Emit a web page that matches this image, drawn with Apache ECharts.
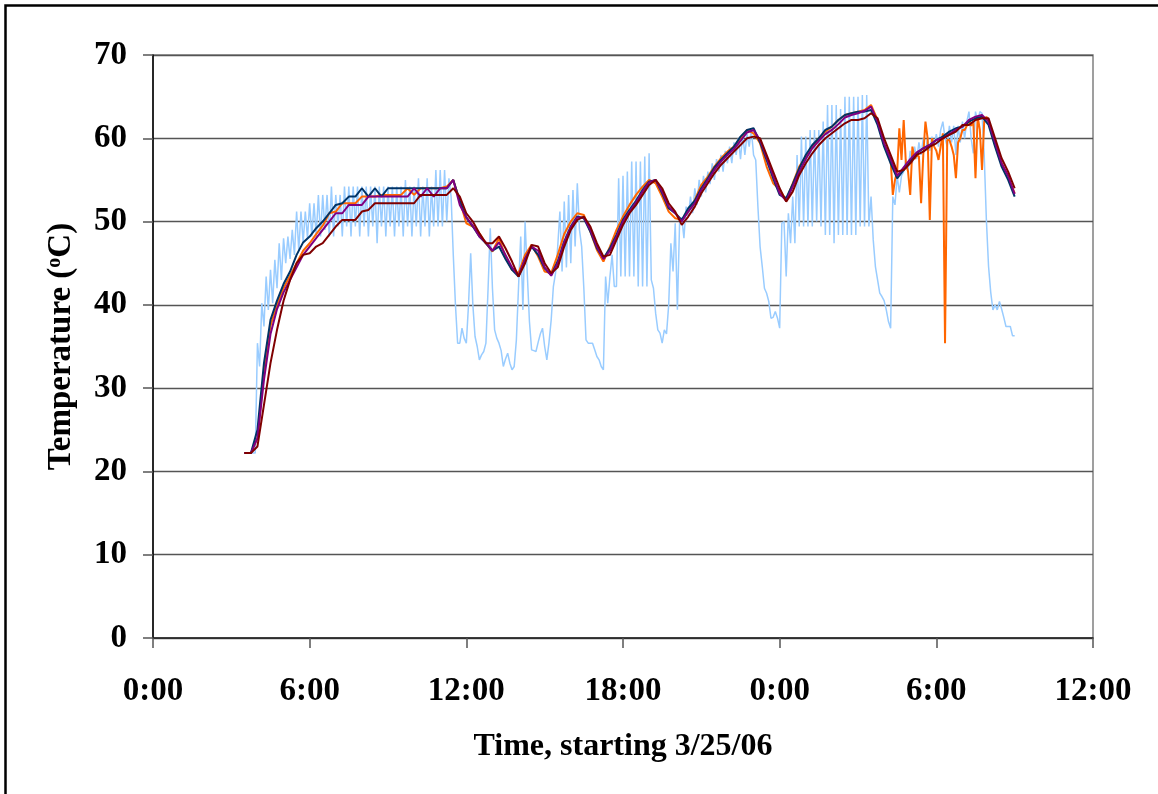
<!DOCTYPE html>
<html>
<head>
<meta charset="utf-8">
<script src="https://cdn.jsdelivr.net/npm/echarts@6/dist/echarts.min.js"></script>
<style>
html,body{margin:0;padding:0;background:#fff;}
#chart{width:1158px;height:794px;}
</style>
</head>
<body>
<div id="chart"></div>
<script>
// ---- data ----
const X_TICK_HOURS = [0, 6, 12, 18, 24, 30, 36];
const Y_TICKS = [0, 10, 20, 30, 40, 50, 60, 70];
const START_HOUR = 3.5;          // first sample, hours after 0:00 on 3/25/06
const MAIN_STEP_H = 0.25;        // 15-minute samples for the four logger series
const LIGHT_STEP_H = 1 / 12;     // 5-minute samples for the light-blue series
const ORANGE_TAIL_START = 28 + 1 / 3;
const ORANGE_TAIL_STEP_H = 1 / 12;

const LIGHT_BLUE = [
 22.2,22.2,22.2,22.2,22.2,22.2,
 35.4,32.6,40.2,37.4,43.4,
 39.4,44.2,40.2,45.4,42,47.4,43,48,45,48.2,
 45.5,49,46,51.2,46.5,51.2,47.5,51.2,48,52.2,
 48.2,52.2,48.2,53.2,48.2,53.2,49,53.2,48.2,54.2,
 48.2,53.2,49.4,53.2,48.2,54.2,49.4,54.2,48.2,54.2,
 49.4,54.2,48.2,54.2,49.4,54.2,48.2,54.2,49.4,54.2,
 47.4,54.2,49.4,54.2,48.2,54.2,49.4,54.2,48.2,54.2,
 49.4,54.2,48.2,55,49.4,54.2,48.2,54.2,49.4,55.2,
 48.2,54.2,49.4,55.2,48.2,54.2,49.4,56.2,49.4,56.2,
 49.4,56.2,50,55.2,53,46,40,35.4,35.4,37.2,
 36,35.4,40,46.2,40,36.2,35,33.4,34,34.4,
 35.4,42,49.2,42,37,36,35.4,34.5,32.6,33.5,
 34.2,33,32.2,32.6,35.8,42.2,48.2,39.4,50,43.8,
 38,34.6,34.5,34.4,35.5,36.5,37.2,35,33.4,35.5,
 38.2,42.2,43.8,47,51.2,44,52.4,44.5,53.2,45,
 53.8,47,54.6,49,47,42,35.8,35.4,35.4,35.4,
 34.6,33.8,33.4,32.6,32.2,43.4,40.2,43.4,46,42.2,
 42.2,55.2,43.4,55.5,43.4,56,43.4,57.2,43.4,57.2,
 42.2,57.2,42.2,57.8,42.2,58.2,43,42,39,37,
 36.6,35.4,37,36.5,40,47.4,44,49.8,39.4,49.8,
 50.5,48,51.8,50.5,53,51,54,52,55,53,
 55.5,53.5,56,54.5,57,55,57.5,56,58,56,
 58.5,57,59,57,59.5,58,60,57.5,60.5,58,
 60.5,59,61,58,57.4,51.8,47,44.6,42,41.4,
 40.4,38.4,38.5,39.2,38.4,37.2,49.8,50,43.4,51,
 47.4,53,47.4,58,49.4,60.2,49.4,60.2,49.4,61,
 49.4,61,50,61,49.4,62,48.4,64,48.4,64,
 47.4,64,48.4,63.5,48.4,65,48.4,65,48.4,65,
 48.4,65,49.4,65.2,49.4,65.2,49.4,53,47.8,44.6,
 43,41.4,41,40.5,39.4,38,37.2,53,52,55.5,
 53.5,55.5,56,57.5,56,58.5,57,59,57.5,59.5,
 58,60,58.5,60,58.5,60.2,59,60.5,59,61,
 62,60,59,61.5,59.5,61.5,58,61.5,59.5,62,
 60,62,63.2,60,58.2,63.2,62,63.2,63,58,
 50.2,44.6,41.5,39.4,40,39.4,40.4,39.5,38.5,37.4,
 37.4,37.4,36.3,36.3
];

const ORANGE_MAIN = [
 22.2,22.2,24,32,37.5,40,42,43.5,45,46.5,
 47.4,48.5,49.5,51,51.2,52.2,52.2,52.2,53,53,
 53,53.2,53.2,53.2,53.2,54,53.2,54,54,54,
 54,54.2,55,52.5,49.8,49.4,48.6,47.4,46.4,48,
 45.8,44.2,43.8,46,47.2,45.8,44,43.8,46,48.5,
 50,51,50.8,48.8,46.6,45.2,47,49,50.6,52,
 53.2,54.2,55,54.6,53,51.2,50.4,50.2,51.2,52.6,
 54.4,55.4,56.6,57.6,58.4,59,60,61,60.6,59.4,
 56.6,54.6,53.8,52.6,54.6,56.6,57.8,59,60,60.8,
 61.4,62.2,62.8,63,63.2,63.4,64,62.2,59.2,57.4
];
const ORANGE_TAIL = [
 53.2,55,56,61.2,57.4,62.2,57,56,53.2,59,
 57.5,58,57.8,52.2,58,62,60,50.2,60,59,
 58.5,57.4,59,60.6,35.4,59.8,59.8,59,58,55.2,
 59.5,60,61,61,61.5,62.2,61.5,62,55.2,62.6,
 61,56.2,62,62.6,62,61,60,59.2,58.4,57.6,
 57,56.4,56,55.4,54.6,54,53.4
];

const NAVY = [
 22.2,22.2,25,33,38.2,40.5,42.5,44,46,47.5,
 48.2,49.2,50,51,52,52.2,53,53,54,53,
 54,53,54,54,54,54,54,54,54,54,
 54,54,55,52.5,50.5,49.4,48.2,47.4,46.5,47,
 45.5,44.2,43.4,45.5,47,46,44.4,43.6,45.2,47.6,
 49.4,50.6,50.4,48.8,46.8,45.6,46.8,48.4,50.2,51.4,
 52.5,53.8,54.8,55,53.4,51.6,51,50.2,51.6,52.5,
 54,55.2,56.5,57.4,58.2,59,60.2,61,61.2,59.5,
 57.4,55.2,53.2,52.8,54.5,56.4,58,59.2,60,61,
 61.4,62.2,62.8,63,63.2,63.2,63.4,61.6,59,57,
 55.2,56.2,57.2,58.2,58.8,59.2,59.8,60.2,60.8,61.2,
 61.4,62,62.4,62.6,61.6,59,56.6,55,53
];

const PURPLE = [
 22.2,22.2,24,31,36.5,39.5,41.5,43,44.5,46,
 47,48,49,50,51,51,52,52,52,53,
 53,53,53,53,53,53,54,53,54,53,
 54,54,55,52,50.5,49.5,48.2,47.5,46.5,47.5,
 46,44.5,43.5,45.5,47,46.5,44.5,43.5,45,47.5,
 49.3,50.5,50.5,49,47,45.5,46.5,48.2,50,51.2,
 52.3,53.6,54.7,55,53.6,51.8,51,50,51.2,52.2,
 53.8,55,56.2,57.2,58,58.7,59.7,60.7,61,59.8,
 57.7,55.5,53.4,52.5,54.2,56,57.5,58.8,59.7,60.5,
 61,61.7,62.5,62.8,63,63.3,63.8,62,59.4,57.5,
 55.5,56.5,57.5,58.3,58.8,59.2,59.8,60,60.5,61,
 61.4,62.2,62.6,62.8,62,59.5,57,55.5,53.3
];

const DARK_RED = [
 22.2,22.2,23,28,33,37,40.5,43,45,46,
 46.2,47,47.4,48.4,49.4,50.2,50.2,50.2,51.2,51.4,
 52.2,52.2,52.2,52.2,52.2,52.2,52.2,53.2,53.2,53.2,
 53.2,53.2,54,53,51,50,48.6,47.4,47.4,48.2,
 46.8,45.2,43.4,45,47.2,47,45,43.8,44.5,47,
 49,50.2,50.6,49.4,47.4,45.8,46,47.8,49.6,51,
 52,53.2,54.4,55,54,52.2,51.2,49.6,50.6,51.8,
 53.4,54.6,55.8,56.8,57.6,58.4,59.2,60,60.2,60,
 58,56,54,52.4,53.6,55.6,57,58.2,59.2,60,
 60.6,61.2,61.8,62.2,62.2,62.4,63,62.4,60,58,
 56,56.2,57,58,58.4,59,59.4,60,60.4,60.8,
 61.6,61.6,62.2,62.4,62.4,60,57.6,56,54
];

// ---- build [hour, value] pairs ----
function grid(vals, start, step) { return vals.map((v, i) => [start + i * step, v]); }
const lightData = grid(LIGHT_BLUE, START_HOUR, LIGHT_STEP_H);
const orangeData = grid(ORANGE_MAIN, START_HOUR, MAIN_STEP_H)
  .concat(grid(ORANGE_TAIL, ORANGE_TAIL_START, ORANGE_TAIL_STEP_H));
const navyData = grid(NAVY, START_HOUR, MAIN_STEP_H);
const purpleData = grid(PURPLE, START_HOUR, MAIN_STEP_H);
const redData = grid(DARK_RED, START_HOUR, MAIN_STEP_H);

const FONT = "'Liberation Serif', 'Times New Roman', serif";
const chart = echarts.init(document.getElementById('chart'), null, {renderer: 'canvas'});

function line(name, data, color, width, z) {
  return { name, type: 'line', data, showSymbol: false, symbol: 'none', z,
    lineStyle: { color, width }, itemStyle: { color }, animation: false };
}

chart.setOption({
  animation: false,
  backgroundColor: '#fff',
  graphic: [{ type: 'rect', left: 3, top: 3, shape: { width: 1200, height: 900 },
    style: { fill: 'none', stroke: '#000', lineWidth: 2.5 }, z: 100 }],
  grid: { left: 153, right: 65, top: 55, bottom: 156, show: true,
    borderColor: '#808080', borderWidth: 1.5, backgroundColor: 'transparent' },
  xAxis: {
    type: 'value', min: X_TICK_HOURS[0], max: X_TICK_HOURS[X_TICK_HOURS.length - 1], interval: 6,
    name: 'Time, starting 3/25/06', nameLocation: 'middle', nameGap: 93,
    nameTextStyle: { fontFamily: FONT, fontWeight: 'bold', fontSize: 32, color: '#000' },
    axisLine: { show: true, onZero: false, lineStyle: { color: '#222', width: 1.5 } },
    axisTick: { show: true, length: 10, lineStyle: { color: '#555', width: 1.5 } },
    axisLabel: { fontFamily: FONT, fontWeight: 'bold', fontSize: 33, color: '#000', margin: 37,
      formatter: v => (v % 24) + ':00' },
    splitLine: { show: false }
  },
  yAxis: {
    type: 'value', min: Y_TICKS[0], max: Y_TICKS[Y_TICKS.length - 1], interval: 10,
    name: 'Temperature ({sup|o}C)', nameLocation: 'middle', nameGap: 75, nameRotate: 90,
    nameTextStyle: { fontFamily: FONT, fontWeight: 'bold', fontSize: 33, color: '#000',
      rich: { sup: { fontFamily: FONT, fontWeight: 'bold', fontSize: 20, color: '#000', verticalAlign: 'top', lineHeight: 33 } } },
    axisLine: { show: true, lineStyle: { color: '#000', width: 1.5 } },
    axisTick: { show: true, length: 10, lineStyle: { color: '#555', width: 1.5 } },
    axisLabel: { fontFamily: FONT, fontWeight: 'bold', fontSize: 33, color: '#000', margin: 26 },
    splitLine: { show: true, lineStyle: { color: '#555', width: 1.3 } }
  },
  series: [
    line('light', lightData, '#99CCFF', 1.5, 2),
    line('orange', orangeData, '#FF6600', 2, 3),
    line('navy', navyData, '#003366', 2, 4),
    line('purple', purpleData, '#800080', 2, 5),
    line('darkred', redData, '#800000', 2, 6)
  ]
});
</script>
</body>
</html>
